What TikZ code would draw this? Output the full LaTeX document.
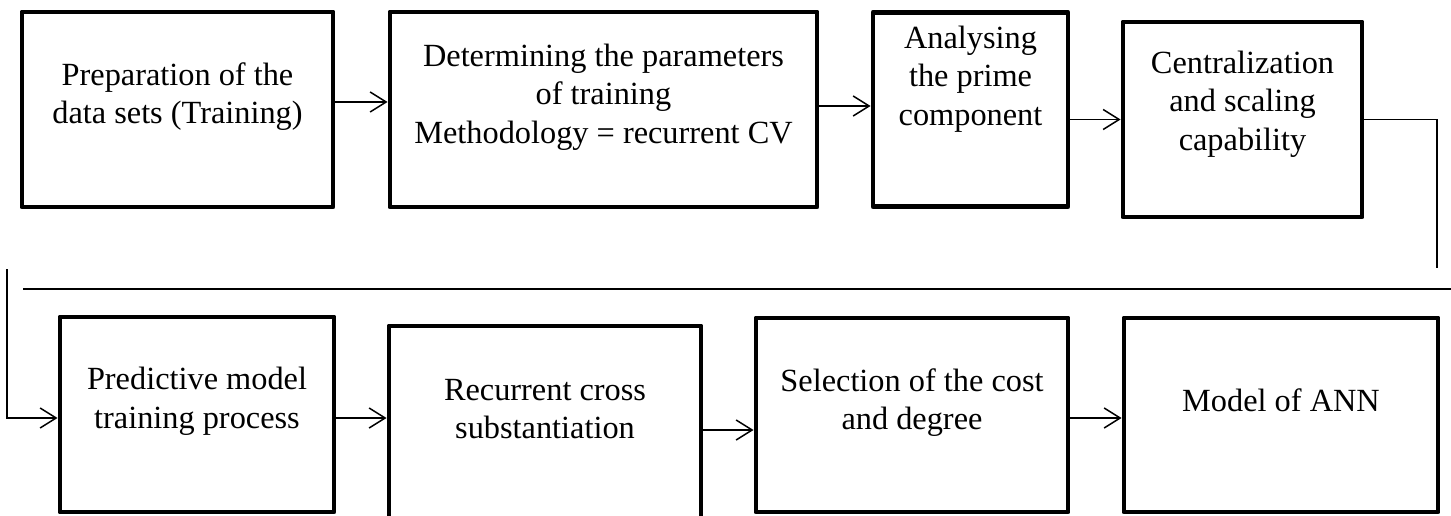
\documentclass[tikz,border=0pt]{standalone}
\usepackage{fontspec}
\setmainfont{Liberation Serif}
\usetikzlibrary{arrows.meta}
\begin{document}
\begin{tikzpicture}[
		box/.style={draw, line width=2.8pt, line join=round, inner sep=0},
		txt/.style={align=center, inner sep=0, font=\fontsize{18.4}{22}\selectfont},
		flow/.style={line width=0.85pt, -{Straight Barb[length=3.2mm, width=4mm]}},
		link/.style={line width=0.85pt},
	]
	\path[use as bounding box, clip] (0,0) rectangle (29.02,10.3);
	% first row
	\node[box, minimum width=6.22cm, minimum height=3.9cm] (box1) at (3.55,8.11) {};
	\node[box, minimum width=8.54cm, minimum height=3.9cm] (box2) at (12.07,8.11) {};
	\node[box, minimum width=3.9cm, minimum height=3.88cm] (box3) at (19.41,8.11) {};
	\node[box, minimum width=4.78cm, minimum height=3.9cm] (box4) at (24.85,7.91) {};
	\node[txt] (t1) at ([yshift=2.6mm]box1.center) {Preparation of the\\data sets (Training)};
	\node[txt] (t2) at ([yshift=2.5mm]box2.center) {Determining the parameters\\of training\\Methodology = recurrent CV};
	\node[txt] (t3) at ([yshift=6.1mm]box3.center) {Analysing\\the prime\\component};
	\node[txt] (t4) at ([yshift=3.1mm]box4.center) {Centralization\\and scaling\\capability};
	% second row
	\node[box, minimum width=5.48cm, minimum height=3.9cm] (box5) at (3.94,2.01) {};
	\node[box, minimum width=6.24cm, minimum height=4.28cm] (box6) at (10.9,1.64) {};
	\node[box, minimum width=6.24cm, minimum height=3.88cm] (box7) at (18.24,2.0) {};
	\node[box, minimum width=6.28cm, minimum height=3.88cm] (box8) at (25.62,2.0) {};
	\node[txt] (t5) at ([yshift=2.7mm]box5.center) {Predictive model\\training process};
	\node[txt] (t6) at ([yshift=4.8mm]box6.center) {Recurrent cross\\substantiation};
	\node[txt] (t7) at ([yshift=2.5mm]box7.center) {Selection of the cost\\and degree};
	\node[txt] (t8) at ([yshift=3mm]box8.center) {Model of ANN};
	% connectors
	\draw[flow] ([yshift=1.5mm]box1.east) -- ([yshift=1.5mm]box2.west);
	\draw[flow] ([yshift=0.7mm]box2.east) -- ([yshift=0.7mm]box3.west);
	\draw[flow] (box3.east |- box4.west) -- (box4.west);
	\coordinate (drop) at (28.74,4.94);
	\draw[link] (box4.east) -| (drop);
	\coordinate (rule-l) at (0.46,4.52);
	\coordinate (rule-r) at (29.02,4.52);
	\draw[link] (rule-l) -- (rule-r);
	\coordinate (rise) at (0.14,4.92);
	\draw[flow] (rise) |- ([yshift=-0.7mm]box5.west);
	\draw[flow] ([yshift=-0.7mm]box5.east) -- ([yshift=-0.7mm]box5.east -| box6.west);
	\draw[flow] ([yshift=-3mm]box7.west -| box6.east) -- ([yshift=-3mm]box7.west);
	\draw[flow] ([yshift=-0.6mm]box7.east) -- ([yshift=-0.6mm]box8.west);
\end{tikzpicture}
\end{document}
